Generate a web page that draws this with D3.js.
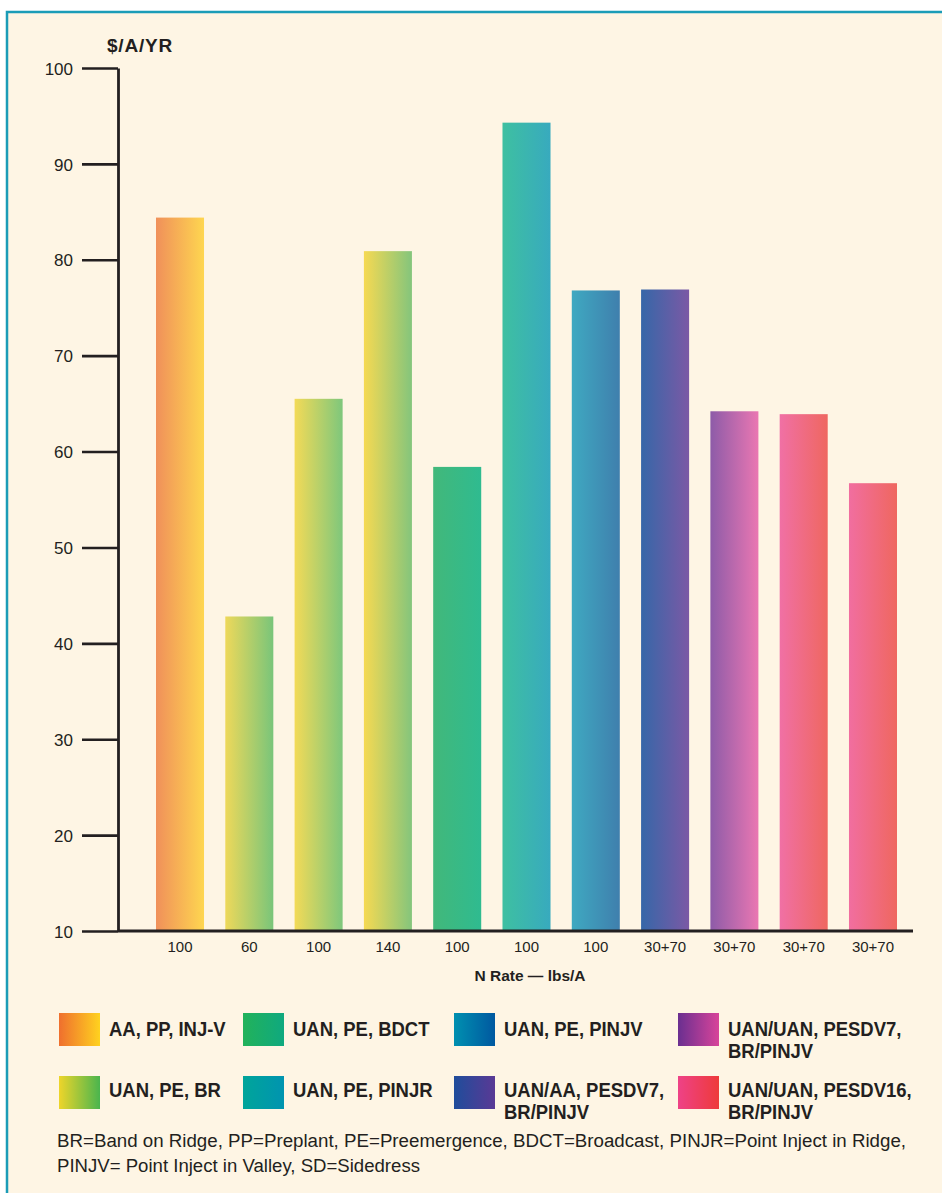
<!DOCTYPE html>
<html>
<head>
<meta charset="utf-8">
<script src="https://cdn.jsdelivr.net/npm/d3@7"></script>
<style>
  body { margin: 0; background: #ffffff; }
  svg { display: block; font-family: 'Liberation Sans', Arial, sans-serif; }
  .tick-y { font-size: 17px; fill: #231f20; }
  .tick-x { font-size: 15px; fill: #231f20; }
  .legend { font-size: 21px; font-weight: bold; fill: #231f20; }
  .note { font-size: 18px; fill: #231f20; }
</style>
</head>
<body>
<div id="chart"></div>
<script>
const rates = ['100', '60', '100', '140', '100', '100', '100', '30+70', '30+70', '30+70', '30+70'];
const values = [84.4, 42.8, 65.5, 80.9, 58.4, 94.3, 76.8, 76.9, 64.2, 63.9, 56.7];
const yTicks = [10, 20, 30, 40, 50, 60, 70, 80, 90, 100];

// left/right colour of each bar's gradient
const barFrom = ['#f0905a', '#eed85a', '#f3da57', '#f6d952', '#42b87a', '#3ec0a1', '#3fa9c1', '#3667a8', '#8d5ba8', '#f070a5', '#f16ea0'];
const barTo = ['#fed650', '#79c57a', '#7ec77c', '#84c57c', '#2fbb90', '#38aabe', '#3f7fad', '#7b59a5', '#ea77b2', '#ef6760', '#ef675f'];

const legendLabels = [
  ['AA, PP, INJ-V'],
  ['UAN, PE, BR'],
  ['UAN, PE, BDCT'],
  ['UAN, PE, PINJR'],
  ['UAN, PE, PINJV'],
  ['UAN/AA, PESDV7,', 'BR/PINJV'],
  ['UAN/UAN, PESDV7,', 'BR/PINJV'],
  ['UAN/UAN, PESDV16,', 'BR/PINJV']
];
const legendFrom = ['#ef6f2e', '#eed52a', '#22b25a', '#00a59a', '#0090b0', '#1f4d9b', '#6a2f90', '#ee4287'];
const legendTo = ['#ffd21f', '#4ab54e', '#0fa97f', '#0094b0', '#0058a0', '#5a3995', '#d8449a', '#ee3a3a'];

const notes = [
  'BR=Band on Ridge, PP=Preplant, PE=Preemergence, BDCT=Broadcast, PINJR=Point Inject in Ridge,',
  'PINJV= Point Inject in Valley, SD=Sidedress'
];

const width = 942;
const height = 1193;
const ink = '#231f20';

let svg = d3.select('#chart').append('svg')
  .attr('width', width)
  .attr('height', height);

let defs = svg.append('defs');

function addGradient(id, from, to) {
  let g = defs.append('linearGradient')
    .attr('id', id)
    .attr('x1', '0%').attr('x2', '100%')
    .attr('y1', '0%').attr('y2', '0%');
  g.append('stop').attr('offset', '0%').attr('stop-color', from);
  g.append('stop').attr('offset', '100%').attr('stop-color', to);
}

barFrom.forEach((c, i) => addGradient('bar' + i, c, barTo[i]));
legendFrom.forEach((c, i) => addGradient('leg' + i, c, legendTo[i]));

// panel with teal frame
svg.append('rect')
  .attr('x', 7)
  .attr('y', 12)
  .attr('width', 960)
  .attr('height', 1200)
  .attr('fill', '#fef5e4')
  .attr('stroke', '#1b9cb7')
  .attr('stroke-width', 2.5);

let yScale = d3.scaleLinear()
  .domain([10, 100])
  .range([931, 68]);

let xScale = d3.scaleBand()
  .domain(d3.range(values.length))
  .range([156, 897])
  .paddingInner(0.307)
  .paddingOuter(0);

// bars
svg.selectAll('.bar')
  .data(values).enter()
    .append('rect')
      .attr('class', 'bar')
      .attr('x', (d, i) => xScale(i))
      .attr('width', xScale.bandwidth())
      .attr('y', d => yScale(d))
      .attr('height', d => yScale(10) - yScale(d))
      .attr('fill', (d, i) => 'url(#bar' + i + ')');

// y axis
let yAxis = svg.append('g')
  .attr('transform', 'translate(118,0)')
  .call(d3.axisLeft(yScale).tickValues(yTicks).tickSize(36).tickPadding(9).tickSizeOuter(0));
yAxis.select('.domain').attr('stroke', ink).attr('stroke-width', 2.8);
yAxis.selectAll('.tick line').attr('stroke', ink).attr('stroke-width', 2.6);
yAxis.selectAll('.tick text')
  .attr('class', 'tick-y')
  .attr('font-size', null)
  .attr('font-family', null)
  .attr('dy', '0.36em');

// x axis
let xAxis = svg.append('g')
  .attr('transform', 'translate(0,931)')
  .call(d3.axisBottom(xScale).tickSize(0).tickPadding(10).tickFormat(i => rates[i]));
xAxis.select('.domain')
  .attr('d', 'M118,0H913')
  .attr('stroke', ink)
  .attr('stroke-width', 2.8);
xAxis.selectAll('.tick text')
  .attr('class', 'tick-x')
  .attr('font-size', null)
  .attr('font-family', null);

svg.append('text')
  .attr('x', 107)
  .attr('y', 52)
  .attr('font-size', 19)
  .attr('font-weight', 'bold')
  .attr('letter-spacing', 0.8)
  .attr('fill', ink)
  .text('$/A/YR');

svg.append('text')
  .attr('x', 530)
  .attr('y', 981)
  .attr('text-anchor', 'middle')
  .attr('font-size', 15.5)
  .attr('font-weight', 'bold')
  .attr('fill', ink)
  .text('N Rate \u2014 lbs/A');

// legend: 4 columns, 2 rows, filled column by column
const legX = [59, 243, 454, 678];
const legY = [1013, 1076];

legendLabels.forEach((lines, i) => {
  let col = Math.floor(i / 2);
  let row = i % 2;
  let g = svg.append('g')
    .attr('transform', 'translate(' + legX[col] + ',' + legY[row] + ')');

  g.append('rect')
    .attr('width', 41)
    .attr('height', 33)
    .attr('fill', 'url(#leg' + i + ')');

  lines.forEach((line, j) => {
    g.append('text')
      .attr('class', 'legend')
      .attr('transform', 'translate(50,' + ((row === 0 ? 23 : 21) + j * 22) + ') scale(0.88,1)')
      .text(line);
  });
});

// footnote
const noteWidths = [849, 363];
notes.forEach((line, i) => {
  svg.append('text')
    .attr('class', 'note')
    .attr('x', 57)
    .attr('y', 1147 + i * 25)
    .attr('textLength', noteWidths[i])
    .attr('lengthAdjust', 'spacingAndGlyphs')
    .text(line);
});
</script>
</body>
</html>
